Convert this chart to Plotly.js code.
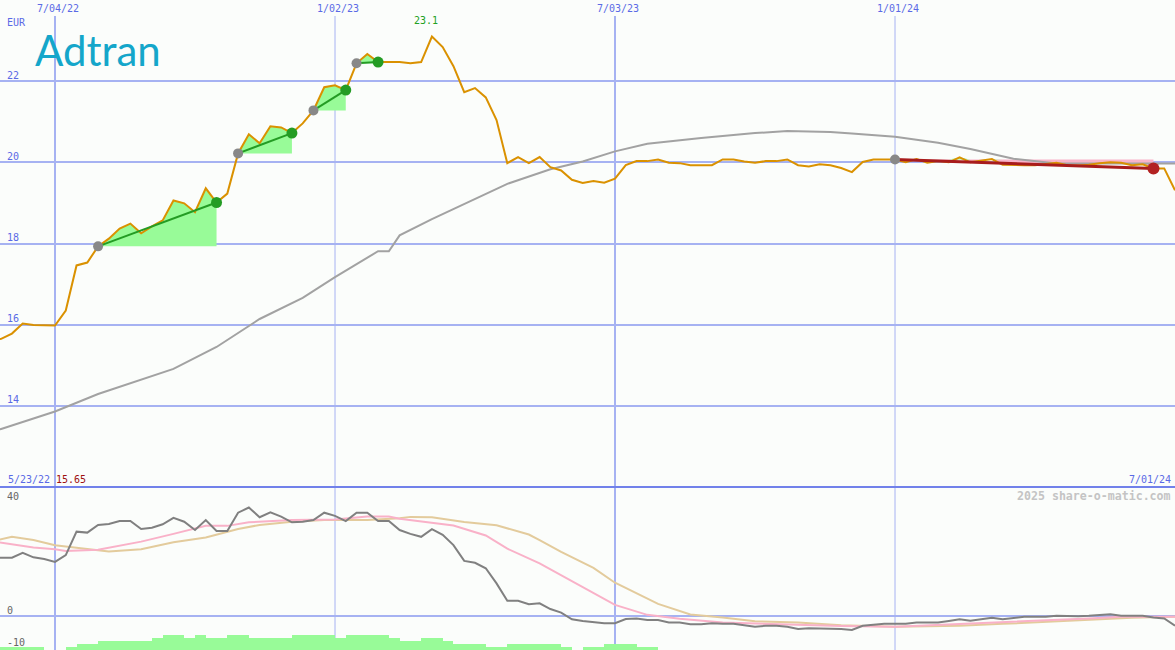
<!DOCTYPE html>
<html><head><meta charset="utf-8">
<script src="https://cdn.plot.ly/plotly-3.0.1.min.js"></script>
<style>html,body{margin:0;padding:0;background:#fbfdfb;}#chart{width:1175px;height:650px;}</style>
</head><body><div id="chart"></div>
<script>
// ---------------- DATA ----------------
const weeks = [
'2022-05-23','2022-05-30','2022-06-06','2022-06-13','2022-06-20','2022-06-27','2022-07-04','2022-07-11','2022-07-18','2022-07-25',
'2022-08-01','2022-08-08','2022-08-15','2022-08-22','2022-08-29','2022-09-05','2022-09-12','2022-09-19','2022-09-26','2022-10-03',
'2022-10-10','2022-10-17','2022-10-24','2022-10-31','2022-11-07','2022-11-14','2022-11-21','2022-11-28','2022-12-05','2022-12-12',
'2022-12-19','2022-12-26','2023-01-02','2023-01-09','2023-01-16','2023-01-23','2023-01-30','2023-02-06','2023-02-13','2023-02-20',
'2023-02-27','2023-03-06','2023-03-13','2023-03-20','2023-03-27','2023-04-03','2023-04-10','2023-04-17','2023-04-24','2023-05-01',
'2023-05-08','2023-05-15','2023-05-22','2023-05-29','2023-06-05','2023-06-12','2023-06-19','2023-06-26','2023-07-03','2023-07-10',
'2023-07-17','2023-07-24','2023-07-31','2023-08-07','2023-08-14','2023-08-21','2023-08-28','2023-09-04','2023-09-11','2023-09-18',
'2023-09-25','2023-10-02','2023-10-09','2023-10-16','2023-10-23','2023-10-30','2023-11-06','2023-11-13','2023-11-20','2023-11-27',
'2023-12-04','2023-12-11','2023-12-18','2023-12-25','2024-01-01','2024-01-08','2024-01-15','2024-01-22','2024-01-29','2024-02-05',
'2024-02-12','2024-02-19','2024-02-26','2024-03-04','2024-03-11','2024-03-18','2024-03-25','2024-04-01','2024-04-08','2024-04-15',
'2024-04-22','2024-04-29','2024-05-06','2024-05-13','2024-05-20','2024-05-27','2024-06-03','2024-06-10','2024-06-17','2024-06-24',
'2024-07-01'];

const price = [
15.60,15.65,15.78,16.03,15.99,15.99,15.98,16.35,17.46,17.53,
17.93,18.12,18.37,18.49,18.25,18.42,18.57,19.06,18.99,18.77,
19.36,19.01,19.23,20.22,20.69,20.47,20.89,20.86,20.72,20.96,
21.28,21.85,21.90,21.78,22.44,22.67,22.47,22.47,22.47,22.44,
22.47,23.10,22.84,22.37,21.73,21.83,21.60,21.04,19.98,20.13,
19.98,20.13,19.88,19.80,19.57,19.49,19.54,19.50,19.60,19.93,
20.03,20.03,20.07,19.99,19.98,19.93,19.93,19.93,20.07,20.07,
20.02,19.99,20.03,20.03,20.07,19.93,19.90,19.95,19.93,19.86,
19.76,20.01,20.07,20.07,20.07,20.00,20.08,19.99,20.03,20.00,
20.12,20.00,20.04,20.08,19.94,19.93,19.93,19.93,19.96,19.99,
19.93,19.92,19.94,19.98,20.00,19.99,19.93,19.95,19.85,19.85,
19.31];

const oscillator = [
18.0,18.0,18.0,19.5,18.1,17.6,16.7,18.8,26.1,25.8,
28.2,28.5,29.4,29.4,26.9,27.3,28.4,30.4,29.2,26.6,
29.7,26.3,26.3,32.0,33.6,30.6,32.1,30.8,29.0,29.2,
29.7,32.0,31.0,29.4,32.0,32.0,29.4,29.4,26.6,25.4,
24.5,26.9,25.1,21.9,17.0,16.4,14.7,10.0,4.6,4.6,
3.5,3.8,2.0,0.9,-1.2,-1.7,-2.1,-2.4,-2.4,-1.1,
-0.9,-1.4,-1.4,-2.2,-2.2,-2.7,-2.7,-2.4,-2.6,-2.6,
-3.0,-3.5,-3.2,-3.2,-3.5,-4.2,-4.0,-4.0,-4.0,-4.2,
-4.5,-3.2,-2.9,-2.6,-2.6,-2.6,-2.2,-2.2,-2.2,-1.7,
-1.2,-1.6,-1.1,-0.7,-1.2,-0.8,-0.4,-0.4,-0.4,-0.1,
-0.2,-0.2,-0.1,0.2,0.4,-0.1,-0.1,-0.1,-0.6,-0.9,
-3.2];

// weekly volume (relative levels), from 2022-05-23 onward; later weeks are empty
const volumeLevel = [
1,1,1,1,1,0,0,1,2,2,
3,3,3,3,3,4,5,5,4,5,
4,4,5,5,4,4,4,4,5,5,
5,5,4,5,5,5,5,4,3,3,
4,4,3,2,2,2,1,1,2,2,
2,2,2,1,0,1,1,2,2,2,
1,1];

// long moving average (grey, price panel)
const maDates = ['2022-05-23','2022-05-30','2022-07-04','2022-08-01','2022-09-19','2022-10-17','2022-11-14','2022-12-12','2023-01-02','2023-01-30','2023-02-06','2023-02-13','2023-03-06','2023-03-27','2023-04-24','2023-05-22','2023-06-12','2023-07-03','2023-07-24','2023-08-28','2023-10-02','2023-10-23','2023-11-20','2023-12-04','2024-01-01','2024-01-29','2024-02-19','2024-03-18','2024-04-15','2024-07-01'];
const maValues = [13.35,13.43,13.86,14.29,14.91,15.45,16.14,16.66,17.17,17.81,17.81,18.20,18.60,18.97,19.47,19.83,20.02,20.27,20.46,20.60,20.72,20.77,20.75,20.71,20.63,20.48,20.33,20.09,19.97,19.97];

// indicator averages (lower panel)
const pinkDates = ['2022-05-23','2022-05-30','2022-06-20','2022-07-04','2022-07-11','2022-08-01','2022-08-29','2022-09-19','2022-10-10','2022-10-24','2022-11-07','2022-12-05','2023-01-02','2023-01-23','2023-02-06','2023-02-13','2023-03-06','2023-03-20','2023-04-10','2023-04-24','2023-05-15','2023-06-05','2023-07-03','2023-07-24','2023-08-14','2023-09-11','2023-10-16','2023-10-30','2023-11-27','2024-01-01','2024-02-12','2024-03-11','2024-04-08','2024-05-06','2024-05-27','2024-07-01'];
const pinkValues = [23.2,22.7,21.2,20.6,20.1,20.5,23.0,25.4,27.9,27.9,29.0,29.7,29.9,30.8,30.8,30.1,28.8,28.0,24.9,20.8,16.2,10.7,3.3,0.2,-1.0,-2.2,-2.7,-3.1,-3.3,-3.5,-2.7,-2.1,-1.4,-0.9,-0.4,-0.4];
const tanDates = ['2022-05-23','2022-05-30','2022-06-06','2022-06-20','2022-07-04','2022-07-25','2022-08-08','2022-08-29','2022-09-19','2022-10-10','2022-10-31','2022-11-14','2022-12-05','2022-12-26','2023-01-23','2023-02-13','2023-02-20','2023-03-06','2023-03-27','2023-04-17','2023-05-08','2023-05-15','2023-05-29','2023-06-19','2023-07-03','2023-07-31','2023-08-21','2023-09-11','2023-10-02','2023-10-30','2023-11-27','2024-01-01','2024-02-12','2024-03-11','2024-04-08','2024-05-06','2024-06-03','2024-07-01'];
const tanValues = [23.0,23.7,24.5,23.5,21.9,20.7,19.9,20.6,22.8,24.3,26.9,28.2,29.2,29.7,29.7,30.3,30.7,30.6,29.1,28.1,25.2,23.5,19.8,14.8,10.2,3.6,0.3,-0.6,-1.8,-2.2,-3.0,-3.5,-3.2,-2.6,-2.0,-1.4,-0.7,-0.4];

// trend segments
const upStarts = ['2022-08-01','2022-10-31','2022-12-19','2023-01-16'];
const upEnds   = ['2022-10-17','2022-12-05','2023-01-09','2023-01-30'];
const downStart = '2024-01-01';
const downEnd = '2024-06-17';

// labels
const dateTicks = ['2022-07-04','2023-01-02','2023-07-03','2024-01-01'];
const dateTickText = ['7/04/22','1/02/23','7/03/23','1/01/24'];
const priceTicks = [14,16,18,20,22];
const oscTickVals = [40,0,-10];
const peakLabel = '23.1';
const peakDate = '2023-03-06';
const firstDateLabel = '5/23/22';
const firstPriceLabel = '15.65';
const lastDateLabel = '7/01/24';

// ---------------- STYLE ----------------
const W = 1175, H = 650;
const splitPx = 487;
const split = 1 - splitPx / H;
const gridCol = '#a6b2f2';
const blue = '#5a6ae6';
const mono = 'DejaVu Sans Mono, monospace';
const vWidths = [2,1,2,1];
const px = p => 1 - p / H;

const traces = [];

// volume bars
traces.push({
  type:'bar', x: weeks.slice(0, volumeLevel.length), y: volumeLevel, yaxis:'y3',
  width: 7*86400000, offset: 0, marker:{color:'#98fb98', line:{width:0}}, hoverinfo:'skip'
});

// up-trend fills
upStarts.forEach((s, k) => {
  const i0 = weeks.indexOf(s), i1 = weeks.indexOf(upEnds[k]);
  const xs = weeks.slice(i0, i1+1).concat([upEnds[k], s]);
  const ys = price.slice(i0, i1+1).concat([price[i0], price[i0]]);
  traces.push({type:'scatter', mode:'lines', x:xs, y:ys, fill:'toself', fillcolor:'#98fb98', line:{width:0}, hoverinfo:'skip'});
});
// down-trend fills
(function(){
  const i0 = weeks.indexOf(downStart), i1 = weeks.indexOf(downEnd);
  const base = price[i0];
  const seg = weeks.slice(i0, i1+1);
  const below = price.slice(i0, i1+1).map(v => Math.min(v, base));
  const above = price.slice(i0, i1+1).map(v => Math.max(v, base));
  traces.push({type:'scatter', mode:'lines', x:seg.concat([downEnd, downStart]), y:below.concat([base, base]), fill:'toself', fillcolor:'#f9b4c9', line:{width:0}, hoverinfo:'skip'});
  traces.push({type:'scatter', mode:'lines', x:seg.concat([downEnd, downStart]), y:above.concat([base, base]), fill:'toself', fillcolor:'#98fb98', line:{width:0}, hoverinfo:'skip'});
})();

// moving average
traces.push({type:'scatter', mode:'lines', x:maDates, y:maValues, line:{color:'#a2a2a2', width:2}, hoverinfo:'skip'});
// price
traces.push({type:'scatter', mode:'lines', x:weeks, y:price, line:{color:'#da9100', width:2}, hoverinfo:'skip'});

// trend lines + dots
upStarts.forEach((s, k) => {
  const i0 = weeks.indexOf(s), i1 = weeks.indexOf(upEnds[k]);
  traces.push({type:'scatter', mode:'lines', x:[s, upEnds[k]], y:[price[i0], price[i1]], line:{color:'#249c24', width:2}, hoverinfo:'skip'});
  traces.push({type:'scatter', mode:'markers', x:[s], y:[price[i0]], marker:{color:'#888888', size:10}, hoverinfo:'skip'});
  traces.push({type:'scatter', mode:'markers', x:[upEnds[k]], y:[price[i1]], marker:{color:'#249c24', size:11}, hoverinfo:'skip'});
});
(function(){
  const i0 = weeks.indexOf(downStart), i1 = weeks.indexOf(downEnd);
  traces.push({type:'scatter', mode:'lines', x:[downStart, downEnd], y:[price[i0], price[i1]], line:{color:'#a81c1c', width:3}, hoverinfo:'skip'});
  traces.push({type:'scatter', mode:'markers', x:[downStart], y:[price[i0]], marker:{color:'#888888', size:10}, hoverinfo:'skip'});
  traces.push({type:'scatter', mode:'markers', x:[downEnd], y:[price[i1]], marker:{color:'#b22222', size:12}, hoverinfo:'skip'});
})();

// lower panel lines
traces.push({type:'scatter', mode:'lines', x:tanDates, y:tanValues, yaxis:'y2', line:{color:'#e3cb9c', width:2}, hoverinfo:'skip'});
traces.push({type:'scatter', mode:'lines', x:pinkDates, y:pinkValues, yaxis:'y2', line:{color:'#f9b1c8', width:2}, hoverinfo:'skip'});
traces.push({type:'scatter', mode:'lines', x:weeks, y:oscillator, yaxis:'y2', line:{color:'#808080', width:2}, hoverinfo:'skip'});

// shapes
const shapes = [];
dateTicks.forEach((d, i) => shapes.push({type:'line', xref:'x', yref:'paper', x0:d, x1:d, y0:0, y1:px(16), line:{color:gridCol, width:vWidths[i]}, layer:'below'}));
shapes.push({type:'line', xref:'paper', yref:'paper', x0:0, x1:1, y0:split, y1:split, line:{color:'#7181ea', width:2}, layer:'above'});

// annotations
const ann = [];
const A = (o) => ann.push(Object.assign({showarrow:false}, o));
dateTicks.forEach((d, i) => A({xref:'x', yref:'paper', x:d, y:px(8), xshift:3, text:dateTickText[i], font:{family:mono, size:10, color:blue}, xanchor:'center', yanchor:'middle'}));
A({xref:'paper', yref:'paper', x:5/W, y:px(22), text:'EUR', font:{family:mono, size:10, color:blue}, xanchor:'left', yanchor:'middle'});
priceTicks.forEach(v => A({xref:'paper', yref:'y', x:5/W, y:v, yshift:6, text:String(v), font:{family:mono, size:10, color:blue}, xanchor:'left', yanchor:'middle'}));
oscTickVals.forEach((v, i) => {
  const yy = [496, 610, 642][i];
  A({xref:'paper', yref:'paper', x:5/W, y:px(yy), text:String(v), font:{family:mono, size:10, color:'#666666'}, xanchor:'left', yanchor:'middle'});
});
A({xref:'x', yref:'paper', x:peakDate, y:px(21), xshift:-6, text:peakLabel, font:{family:mono, size:10, color:'#22a022'}, xanchor:'center', yanchor:'middle'});
A({xref:'paper', yref:'paper', x:6/W, y:px(479), text:firstDateLabel, font:{family:mono, size:10, color:blue}, xanchor:'left', yanchor:'middle'});
A({xref:'paper', yref:'paper', x:54/W, y:px(479), text:firstPriceLabel, font:{family:mono, size:10, color:'#a01010'}, xanchor:'left', yanchor:'middle'});
A({xref:'paper', yref:'paper', x:1173/W, y:px(479), text:lastDateLabel, font:{family:mono, size:10, color:blue}, xanchor:'right', yanchor:'middle'});
A({xref:'paper', yref:'paper', x:1173/W, y:px(496), text:'<b>2025 share-o-matic.com</b>', font:{family:mono, size:11.6, color:'#c4c4c4'}, xanchor:'right', yanchor:'middle'});
A({xref:'paper', yref:'paper', x:33/W, y:px(50), text:'Adtran', font:{family:'Lato, Noto Sans, sans-serif', size:42, color:'#14a6ca'}, xanchor:'left', yanchor:'middle'});

const layout = {
  width:W, height:H, margin:{l:0, r:0, t:0, b:0, pad:0},
  paper_bgcolor:'#fbfdfb', plot_bgcolor:'#fbfdfb', showlegend:false,
  xaxis:{type:'date', range:['2022-05-29 06:00','2024-07-01'], showgrid:false, zeroline:false, showticklabels:false, showline:false, ticks:'', fixedrange:true},
  yaxis:{domain:[split, 1], range:[12, 24], tickvals:priceTicks, showticklabels:false, gridcolor:gridCol, gridwidth:2, zeroline:false, showline:false, ticks:'', fixedrange:true},
  yaxis2:{domain:[0, split], range:[-10.74, 40], tickvals:[0], showticklabels:false, gridcolor:gridCol, gridwidth:2, zeroline:false, showline:false, ticks:'', fixedrange:true},
  yaxis3:{overlaying:'y2', range:[0, 163/3], visible:false, fixedrange:true},
  shapes:shapes, annotations:ann, bargap:0
};
Plotly.newPlot('chart', traces, layout, {displayModeBar:false, staticPlot:true});
</script>
</body></html>
